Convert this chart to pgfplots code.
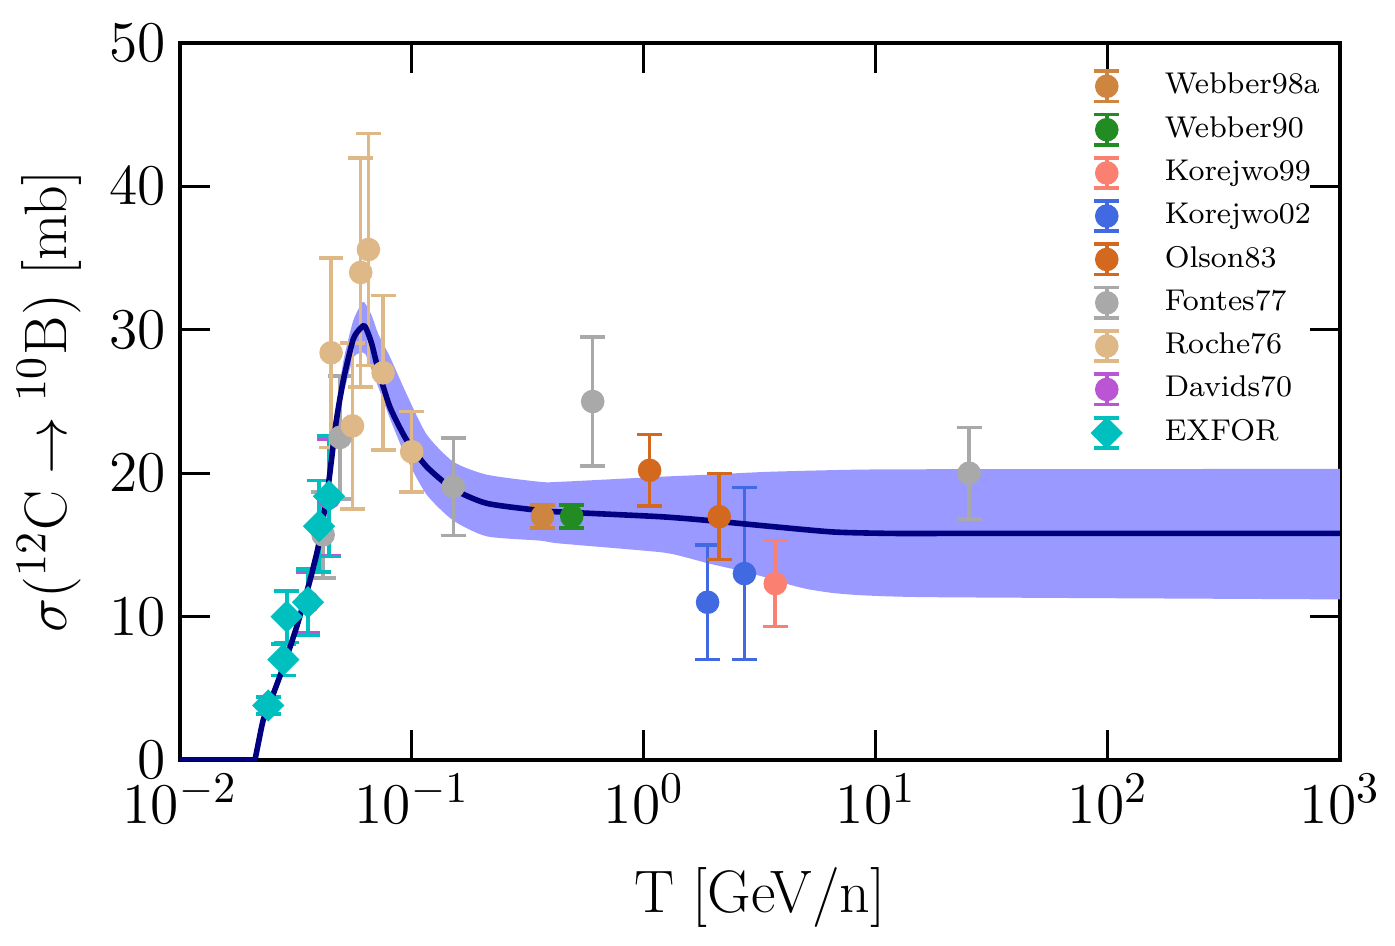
\documentclass[border=0pt]{standalone}
\usepackage{fontspec}
\usepackage{pgfplots}
\pgfplotsset{compat=1.18}
\usepgfplotslibrary{fillbetween}
\definecolor{peru}{RGB}{205,133,63}
\definecolor{forestgreen}{RGB}{34,139,34}
\definecolor{salmon}{RGB}{250,128,114}
\definecolor{royalblue}{RGB}{65,105,225}
\definecolor{chocolate}{RGB}{210,105,30}
\definecolor{darkgray}{RGB}{169,169,169}
\definecolor{burlywood}{RGB}{222,184,135}
\definecolor{mediumorchid}{RGB}{186,85,211}
\definecolor{mplcyan}{RGB}{0,191,191}
\definecolor{bandcol}{RGB}{153,153,255}
\definecolor{navy}{RGB}{0,0,128}
\pgfplotsset{
  legend image code/.code={%
    \draw[#1,mark=none,solid,line width=0.9pt] (0.3cm,-3.8pt) -- (0.3cm,3.8pt);
    \draw[#1,mark=none,solid,line width=0.9pt] (0.3cm-3.1pt,-3.8pt) -- (0.3cm+3.1pt,-3.8pt);
    \draw[#1,mark=none,solid,line width=0.9pt] (0.3cm-3.1pt,3.8pt) -- (0.3cm+3.1pt,3.8pt);
    \draw[#1,only marks] plot coordinates {(0.3cm,0pt)};
  },
  errstyle/.style={only marks, mark=*, mark size=2.75pt, forget plot,
    error bars/y dir=both, error bars/y explicit,
    error bars/error bar style={line width=0.9pt, solid},
    error bars/error mark options={rotate=90, line width=0.9pt, mark size=3.1pt, solid}},
}
\begin{document}
\begin{tikzpicture}
\begin{axis}[
  at={(0,0)}, anchor=south west,
  scale only axis, width=290pt, height=179.25pt,
  xmode=log, xmin=1e-2, xmax=1e3, ymin=0, ymax=50,
  xtick={1e-2,1e-1,1,1e1,1e2,1e3}, ytick={0,10,20,30,40,50},
  xminorticks=false,
  tick align=inside, major tick length=7.5pt,
  every tick/.style={black, line width=0.75pt},
  axis line style={line width=0.9pt},
  tick label style={font=\fontsize{15}{18}\selectfont},
  label style={font=\fontsize{15}{18}\selectfont},
  xlabel={T [GeV/n]},
  ylabel={$\sigma(^{12}\mathrm{C}\rightarrow{}^{10}\mathrm{B})$ [mb]},
  xlabel style={at={(rel axis cs:0.5,0)}, anchor=north, inner sep=0pt, yshift=-26.75pt},
  ylabel style={at={(rel axis cs:0,0.5)}, anchor=south, inner sep=0pt, yshift=24.5pt},
  legend cell align=left,
  legend style={at={(0.775,0.9818)}, anchor=north west, draw=none, fill=none,
    font=\fontsize{7.5}{9}\selectfont, row sep=0.15pt,
    /tikz/every odd column/.append style={column sep=8.75pt}},
]
% uncertainty band
\addplot[name path=up, draw=none, smooth, tension=0.4, forget plot] coordinates {
(0.02105,0) (0.0219,1.6) (0.0229,3.0) (0.0244,4.3) (0.0279,6.9) (0.0319,9.8)
(0.0357,12.8) (0.0395,15.7) (0.0435,19.6) (0.0470,24.3) (0.0506,27.8) (0.0557,30.6)
(0.0600,31.7) (0.0621,31.95) (0.0670,31.0) (0.0716,29.7) (0.0804,28.1) (0.0949,25.5)
(0.1157,22.7) (0.1507,20.8) (0.2099,19.9) (0.356,19.4) (0.434,19.4) (1.167,19.75)
(1.906,19.9) (3.46,20.1) (8.41,20.25) (22.6,20.28) (1000,20.3)
};
\addplot[name path=lo, draw=none, smooth, tension=0.4, forget plot] coordinates {
(0.02105,0) (0.0219,1.2) (0.0229,2.6) (0.0244,3.7) (0.0279,6.1) (0.0319,8.8)
(0.0357,11.4) (0.0395,14.1) (0.0435,18.4) (0.0470,22.8) (0.0506,25.5) (0.0557,28.0)
(0.0600,28.4) (0.0630,28.3) (0.0670,27.2) (0.0716,26.0) (0.0804,23.8) (0.0949,21.0)
(0.1157,18.5) (0.1507,16.7) (0.2099,15.6) (0.356,15.3) (0.434,15.1) (1.167,14.5)
(1.5,14.15) (1.906,13.7) (2.6,13.2) (3.46,12.67) (4.3,12.2) (5.13,11.9) (6.5,11.65)
(8.41,11.5) (12,11.4) (22.6,11.34) (1000,11.2)
};
\addplot[bandcol, draw=none, forget plot] fill between[of=up and lo];
% Fontes77
\addplot[darkgray, errstyle] table[x=x, y=y, y error=e] {
x y e
0.0414 15.7 3.0
0.0490 22.5 4.3
0.1507 19.06 3.4
0.601 25.0 4.5
25.2 20.0 3.2
};
% Davids70
\addplot[mediumorchid, errstyle] table[x=x, y=y, y error=e] {
x y e
0.0240 3.8 0.6
0.03562 11.0 2.1
0.0439 18.3 4.05
};
% EXFOR
\addplot[mplcyan, errstyle, mark=square*, mark size=2.65pt, mark options={rotate=45}] table[x=x, y=y, y error=e] {
x y e
0.02402 3.8 0.6
0.02788 7.0 1.1
0.02884 10.0 1.8
0.03562 11.0 2.3
0.03973 16.3 3.2
0.04387 18.4 4.2
};
% Webber98a
\addplot[peru, errstyle] table[x=x, y=y, y error=e] {
x y e
0.365 17.0 0.8
};
% Webber90
\addplot[forestgreen, errstyle] table[x=x, y=y, y error=e] {
x y e
0.488 17.0 0.8
};
% Korejwo99
\addplot[salmon, errstyle] table[x=x, y=y, y error=e] {
x y e
3.68 12.3 3.0
};
% Korejwo02
\addplot[royalblue, errstyle] table[x=x, y=y, y error=e] {
x y e
1.88 11.0 4.0
2.71 13.0 6.0
};
% Olson83
\addplot[chocolate, errstyle] table[x=x, y=y, y error=e] {
x y e
1.057 20.2 2.5
2.11 16.97 3.0
};
% Roche76
\addplot[burlywood, errstyle] table[x=x, y=y, y error=e] {
x y e
0.0448 28.4 6.6
0.0554 23.3 5.8
0.0601 34.0 8.0
0.0649 35.6 8.1
0.0751 27.0 5.4
0.0997 21.5 2.8
};
% model curve
\addplot[navy, line width=1.4pt, line cap=round, forget plot] coordinates {(0.01,0) (0.02105,0)};
\addplot[navy, line width=1.4pt, line cap=round, line join=round, smooth, tension=0.4, forget plot] coordinates {
(0.02105,0) (0.0219,1.4) (0.02286,2.8) (0.02443,4.0) (0.02788,6.5) (0.03185,9.3)
(0.03573,12.1) (0.03947,14.9) (0.04345,19.0) (0.04703,23.5) (0.0506,26.5) (0.0557,29.3)
(0.05913,30.0) (0.0621,30.3) (0.0638,30.0) (0.0670,29.05) (0.0716,27.2) (0.0804,24.6)
(0.0949,22.3) (0.1157,20.45) (0.1507,18.9) (0.2099,17.9) (0.356,17.4) (0.434,17.3)
(1.167,16.97) (1.906,16.7) (3.46,16.3) (6.57,15.9) (12,15.8) (22.6,15.8) (1000,15.8)
};
% legend
\addlegendimage{peru, mark=*, mark size=2.75pt}
\addlegendentry{Webber98a}
\addlegendimage{forestgreen, mark=*, mark size=2.75pt}
\addlegendentry{Webber90}
\addlegendimage{salmon, mark=*, mark size=2.75pt}
\addlegendentry{Korejwo99}
\addlegendimage{royalblue, mark=*, mark size=2.75pt}
\addlegendentry{Korejwo02}
\addlegendimage{chocolate, mark=*, mark size=2.75pt}
\addlegendentry{Olson83}
\addlegendimage{darkgray, mark=*, mark size=2.75pt}
\addlegendentry{Fontes77}
\addlegendimage{burlywood, mark=*, mark size=2.75pt}
\addlegendentry{Roche76}
\addlegendimage{mediumorchid, mark=*, mark size=2.75pt}
\addlegendentry{Davids70}
\addlegendimage{mplcyan, mark=square*, mark size=2.65pt, mark options={rotate=45}}
\addlegendentry{EXFOR}
\end{axis}
\path (-45pt,-46.25pt) rectangle (303.75pt,190pt);
\end{tikzpicture}
\end{document}
